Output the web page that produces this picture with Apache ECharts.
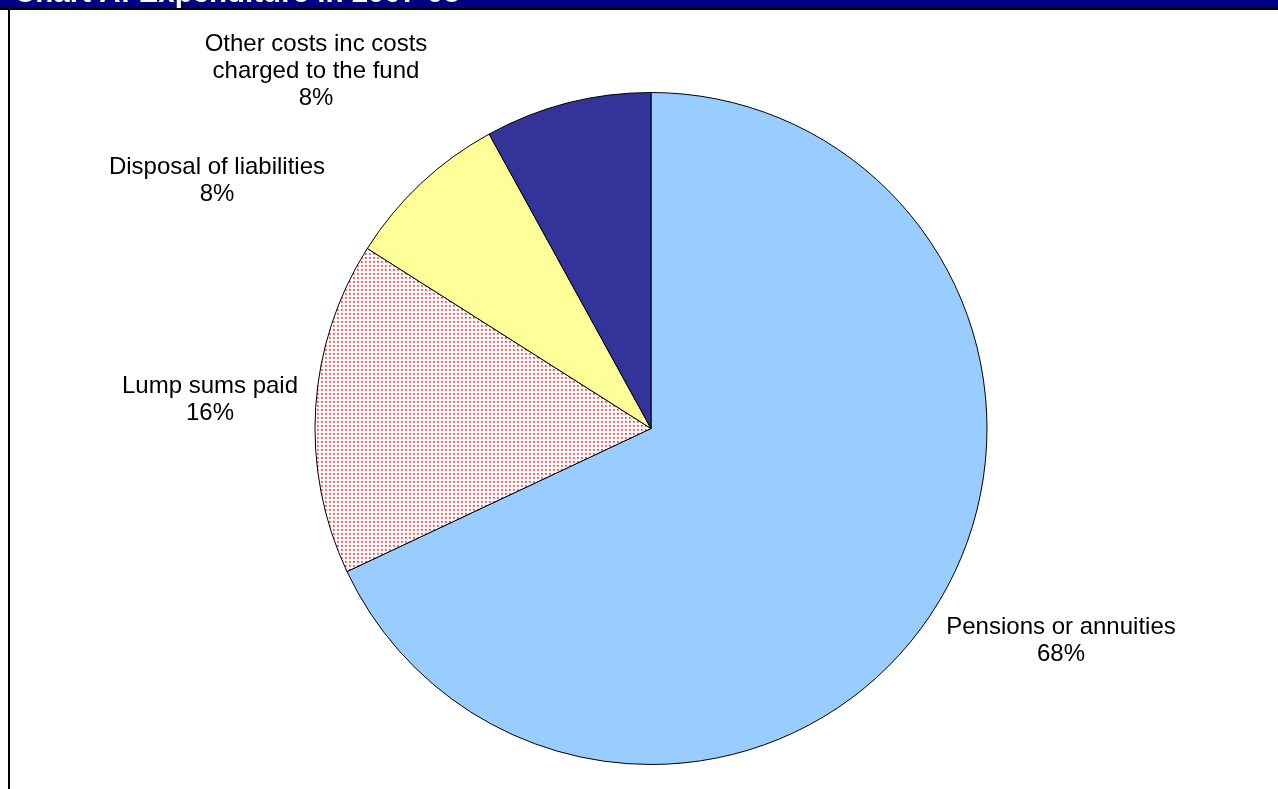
<!DOCTYPE html>
<html>
<head>
<meta charset="utf-8">
<script src="https://cdn.jsdelivr.net/npm/echarts@6/dist/echarts.min.js"></script>
<style>
  html, body { margin: 0; padding: 0; background: #fff; }
  #chart { width: 1278px; height: 789px; }
</style>
</head>
<body>
<div id="chart"></div>
<script>
// Expenditure shares, 2007-08 (per cent of total)
const categories = [
  'Pensions or annuities',
  'Lump sums paid',
  'Disposal of liabilities',
  'Other costs inc costs\ncharged to the fund'
];
const shares = [68, 16, 8, 8];
const chartTitle = 'Chart A: Expenditure in 2007-08';

// Styling
const CX = 651, CY = 428.5, R = 336;
const FONT = 'Liberation Sans, Arial, Helvetica, sans-serif';
// Label anchor offsets from the pie centre, one per slice
const labelOffsets = [[410, 212], [-441, -29], [-434, -248], [-335, -357]];

// Red dotted fill for the lump-sum slice
function dotPattern() {
  const c = document.createElement('canvas');
  c.width = 4; c.height = 4;
  const g = c.getContext('2d');
  g.fillStyle = '#ffffff';
  g.fillRect(0, 0, 4, 4);
  g.fillStyle = '#ff8080';
  g.fillRect(1, 1, 2, 2);
  g.fillStyle = '#ff3030';
  g.fillRect(1, 1, 1, 1);
  return c;
}

const fills = [
  '#99CCFF',
  { image: dotPattern(), repeat: 'repeat' },
  '#FFFF99',
  '#333399'
];

const chart = echarts.init(document.getElementById('chart'), null, { renderer: 'canvas' });

chart.setOption({
  animation: false,
  backgroundColor: '#ffffff',
  graphic: [
    { type: 'rect', shape: { x: 0, y: 0, width: 1278, height: 8 }, style: { fill: '#000080' }, z: 10 },
    {
      type: 'text', x: 14, y: 9, z: 11,
      style: {
        text: chartTitle, fill: '#ffffff',
        font: 'bold 29.5px ' + FONT,
        verticalAlign: 'bottom', align: 'left'
      }
    },
    { type: 'rect', shape: { x: 0, y: 8, width: 1278, height: 2 }, style: { fill: '#000000' }, z: 12 },
    { type: 'rect', shape: { x: 0, y: 10, width: 1278, height: 6 }, style: { fill: '#ffffff' }, z: 12 },
    { type: 'rect', shape: { x: 8, y: 8, width: 2, height: 781 }, style: { fill: '#000000' }, z: 13 }
  ],
  series: [{
    type: 'pie',
    center: [CX, CY],
    radius: R,
    startAngle: 90,
    clockwise: true,
    avoidLabelOverlap: false,
    silent: true,
    itemStyle: { borderColor: '#000000', borderWidth: 1 },
    labelLine: { show: false },
    label: {
      show: true,
      position: 'outside',
      color: '#000000',
      fontFamily: FONT,
      fontSize: 24,
      lineHeight: 27,
      align: 'center',
      formatter: p => p.name + '\n' + Math.round(p.percent) + '%'
    },
    labelLayout: params => {
      const o = labelOffsets[params.dataIndex];
      return { x: CX + o[0], y: CY + o[1], align: 'center', verticalAlign: 'middle' };
    },
    data: categories.map((name, i) => ({
      name: name,
      value: shares[i],
      itemStyle: { color: fills[i] }
    }))
  }]
});
</script>
</body>
</html>
